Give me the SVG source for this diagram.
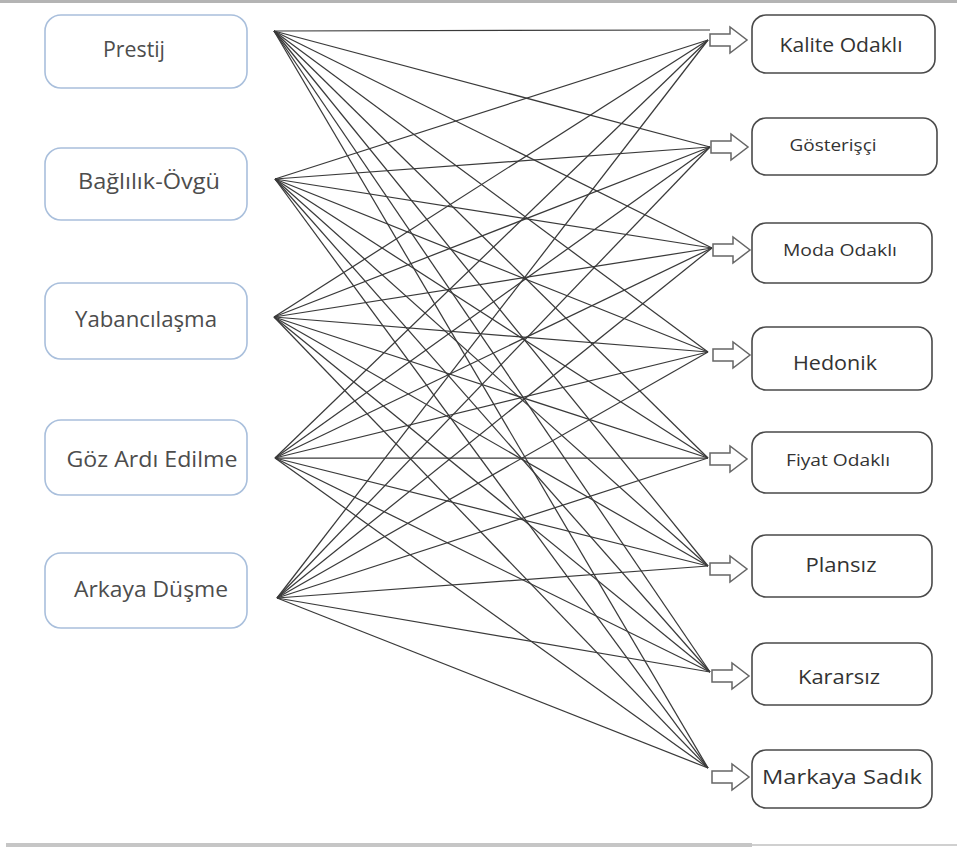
<svg xmlns="http://www.w3.org/2000/svg" width="957" height="850" viewBox="0 0 957 850">
<style>
.lbox{fill:#fff;stroke:#a9bfdc;stroke-width:1.6}
.rbox{fill:#fff;stroke:#4a4a4a;stroke-width:1.6}
.lt{font-family:"Open Sans","Noto Sans",sans-serif;font-size:21px;fill:#4d4d4d;text-anchor:middle}
.rt{font-family:"Open Sans","Noto Sans",sans-serif;font-size:20px;fill:#333;text-anchor:middle}
.sm{font-size:17px}
.arr{fill:#fff;stroke:#666;stroke-width:1.5;stroke-linejoin:miter}
#connectors line{stroke:#3a3a3a;stroke-width:1.25}
</style>
<defs>
<path id="arrow" class="arr" d="M0,-6 H20 V-13 L37,0 L20,13 V6 H0 Z"/>
</defs>
<rect x="0" y="0" width="957" height="850" fill="#fff"/>
<rect x="0" y="0" width="957" height="3" fill="#b4b4b4"/>
<rect x="6" y="843" width="746" height="4" fill="#c6c6c6"/>
<rect x="752" y="844" width="205" height="2" fill="#d0d0d0"/>

<g id="connectors">
<line x1="274" y1="31" x2="710" y2="30"/>
<line x1="274" y1="31" x2="710" y2="147"/>
<line x1="274" y1="31" x2="712" y2="248"/>
<line x1="274" y1="31" x2="708" y2="352"/>
<line x1="274" y1="31" x2="708" y2="458"/>
<line x1="274" y1="31" x2="708" y2="566"/>
<line x1="274" y1="31" x2="710" y2="672"/>
<line x1="274" y1="31" x2="708" y2="768"/>
<line x1="275" y1="179" x2="708" y2="40"/>
<line x1="275" y1="179" x2="710" y2="147"/>
<line x1="275" y1="179" x2="712" y2="248"/>
<line x1="275" y1="179" x2="708" y2="352"/>
<line x1="275" y1="179" x2="708" y2="458"/>
<line x1="275" y1="179" x2="708" y2="566"/>
<line x1="275" y1="179" x2="710" y2="672"/>
<line x1="275" y1="179" x2="708" y2="768"/>
<line x1="274" y1="317" x2="708" y2="40"/>
<line x1="274" y1="317" x2="710" y2="147"/>
<line x1="274" y1="317" x2="712" y2="248"/>
<line x1="274" y1="317" x2="708" y2="352"/>
<line x1="274" y1="317" x2="708" y2="458"/>
<line x1="274" y1="317" x2="708" y2="566"/>
<line x1="274" y1="317" x2="710" y2="672"/>
<line x1="274" y1="317" x2="708" y2="768"/>
<line x1="275" y1="458" x2="708" y2="40"/>
<line x1="275" y1="458" x2="710" y2="147"/>
<line x1="275" y1="458" x2="712" y2="248"/>
<line x1="275" y1="458" x2="708" y2="352"/>
<line x1="275" y1="458" x2="708" y2="458"/>
<line x1="275" y1="458" x2="708" y2="566"/>
<line x1="275" y1="458" x2="710" y2="672"/>
<line x1="275" y1="458" x2="708" y2="768"/>
<line x1="277" y1="598" x2="708" y2="40"/>
<line x1="277" y1="598" x2="710" y2="147"/>
<line x1="277" y1="598" x2="712" y2="248"/>
<line x1="277" y1="598" x2="708" y2="352"/>
<line x1="277" y1="598" x2="708" y2="458"/>
<line x1="277" y1="598" x2="708" y2="566"/>
<line x1="277" y1="598" x2="710" y2="672"/>
<line x1="277" y1="598" x2="708" y2="768"/>
</g>

<g id="arrows">
<use href="#arrow" x="710" y="40"/>
<use href="#arrow" x="711" y="147"/>
<use href="#arrow" x="713" y="250"/>
<use href="#arrow" x="713" y="355"/>
<use href="#arrow" x="710" y="459"/>
<use href="#arrow" x="710" y="569"/>
<use href="#arrow" x="712" y="676"/>
<use href="#arrow" x="712" y="777"/>
</g>

<g id="n-prestij"><rect class="lbox" x="45" y="15" width="202" height="73" rx="16"/><text class="lt" x="134" y="57" textLength="62" lengthAdjust="spacingAndGlyphs">Prestij</text></g>
<g id="n-baglilik"><rect class="lbox" x="45" y="148" width="202" height="72" rx="16"/><text class="lt" x="149" y="189" textLength="142" lengthAdjust="spacingAndGlyphs">Bağlılık-Övgü</text></g>
<g id="n-yabancilasma"><rect class="lbox" x="45" y="283" width="202" height="76" rx="16"/><text class="lt" x="146" y="327" textLength="142" lengthAdjust="spacingAndGlyphs">Yabancılaşma</text></g>
<g id="n-gozardi"><rect class="lbox" x="45" y="420" width="202" height="75" rx="16"/><text class="lt" x="152" y="467" textLength="171" lengthAdjust="spacingAndGlyphs">Göz Ardı Edilme</text></g>
<g id="n-arkaya"><rect class="lbox" x="45" y="553" width="202" height="75" rx="16"/><text class="lt" x="151" y="597" textLength="154" lengthAdjust="spacingAndGlyphs">Arkaya Düşme</text></g>

<g id="n-kalite"><rect class="rbox" x="752" y="15" width="183" height="58" rx="14"/><text class="rt" x="841" y="52" textLength="123" lengthAdjust="spacingAndGlyphs">Kalite Odaklı</text></g>
<g id="n-gosterisci"><rect class="rbox" x="752" y="118" width="185" height="57" rx="14"/><text class="rt sm" x="833" y="151" textLength="87" lengthAdjust="spacingAndGlyphs">Gösterişçi</text></g>
<g id="n-moda"><rect class="rbox" x="752" y="223" width="180" height="60" rx="14"/><text class="rt sm" x="840" y="256" textLength="114" lengthAdjust="spacingAndGlyphs">Moda Odaklı</text></g>
<g id="n-hedonik"><rect class="rbox" x="752" y="327" width="180" height="63" rx="14"/><text class="rt" x="835" y="370" textLength="84" lengthAdjust="spacingAndGlyphs">Hedonik</text></g>
<g id="n-fiyat"><rect class="rbox" x="752" y="432" width="180" height="61" rx="14"/><text class="rt sm" x="838" y="466" textLength="104" lengthAdjust="spacingAndGlyphs">Fiyat Odaklı</text></g>
<g id="n-plansiz"><rect class="rbox" x="752" y="535" width="180" height="62" rx="14"/><text class="rt" x="841" y="572" textLength="71" lengthAdjust="spacingAndGlyphs">Plansız</text></g>
<g id="n-kararsiz"><rect class="rbox" x="752" y="643" width="180" height="62" rx="14"/><text class="rt" x="839" y="684" textLength="82" lengthAdjust="spacingAndGlyphs">Kararsız</text></g>
<g id="n-markaya"><rect class="rbox" x="752" y="750" width="180" height="58" rx="14"/><text class="rt" x="842" y="784" textLength="160" lengthAdjust="spacingAndGlyphs" font-size="22">Markaya Sadık</text></g>
</svg>
